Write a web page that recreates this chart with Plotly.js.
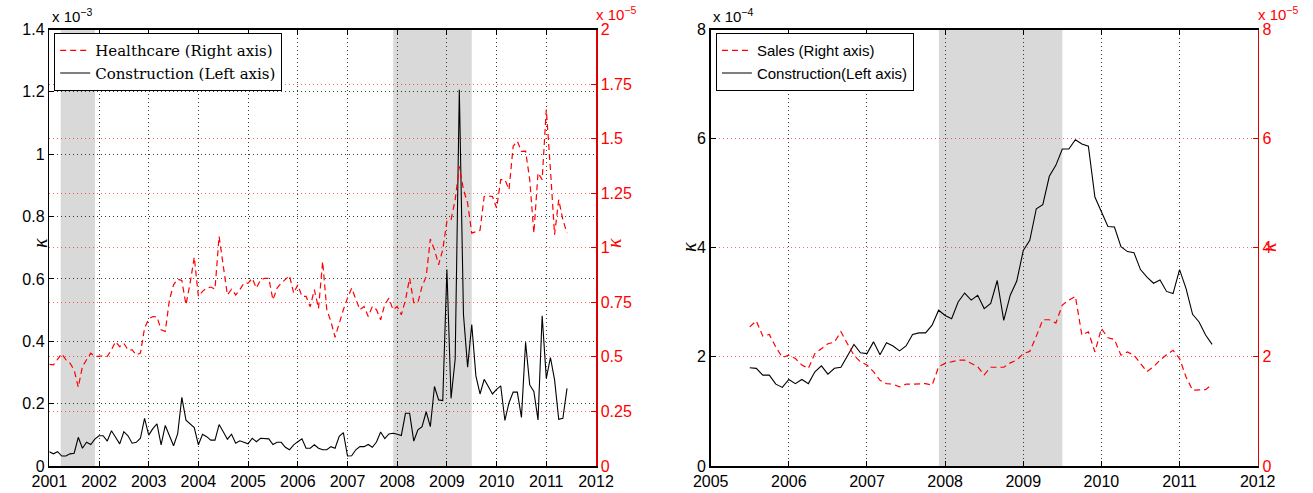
<!DOCTYPE html>
<html>
<head>
<meta charset="utf-8">
<script src="https://cdn.plot.ly/plotly-3.0.1.min.js"></script>
<style>html,body{margin:0;padding:0;background:#fff;}#chart{width:1313px;height:493px;}</style>
</head>
<body>
<div id="chart"></div>
<script>
// ---------- Left panel data (monthly, Jan 2001 - Jun 2011) ----------
const leftStartYear = 2001;
// Construction, left axis (x 10^-3)
const constructionLeft = [
 0.046,0.039,0.046,0.032,0.032,0.039,0.041,0.092,0.057,0.076,0.069,0.086,
 0.097,0.097,0.080,0.113,0.092,0.071,0.110,0.097,0.073,0.076,0.089,0.153,
 0.099,0.120,0.135,0.068,0.130,0.099,0.065,0.104,0.220,0.147,0.134,0.123,
 0.068,0.102,0.094,0.083,0.083,0.133,0.110,0.086,0.102,0.073,0.081,0.076,
 0.071,0.089,0.078,0.089,0.089,0.087,0.069,0.076,0.076,0.060,0.052,0.068,
 0.078,0.087,0.057,0.057,0.068,0.057,0.052,0.052,0.062,0.057,0.095,0.107,
 0.032,0.033,0.052,0.062,0.062,0.069,0.060,0.077,0.109,0.088,0.103,0.105,
 0.102,0.098,0.169,0.169,0.080,0.116,0.126,0.174,0.126,0.255,0.212,0.210,
 0.630,0.217,0.343,1.207,0.486,0.317,0.454,0.289,0.231,0.278,0.255,0.231,
 0.246,0.257,0.146,0.203,0.237,0.237,0.156,0.397,0.260,0.239,0.148,0.482,
 0.281,0.348,0.276,0.150,0.153,0.249
];
// Healthcare, right axis (x 10^-5)
const healthcare = [
 0.466,0.463,0.489,0.514,0.487,0.471,0.440,0.361,0.456,0.487,0.517,0.502,
 0.502,0.506,0.502,0.532,0.570,0.547,0.562,0.532,0.532,0.509,0.517,0.632,
 0.673,0.685,0.683,0.624,0.617,0.761,0.830,0.856,0.850,0.739,0.838,0.957,
 0.777,0.800,0.815,0.820,0.810,1.052,0.922,0.784,0.810,0.784,0.808,0.838,
 0.838,0.860,0.815,0.853,0.860,0.860,0.761,0.815,0.838,0.856,0.872,0.792,
 0.830,0.777,0.777,0.730,0.808,0.722,0.937,0.716,0.662,0.590,0.656,0.716,
 0.769,0.815,0.765,0.716,0.731,0.685,0.731,0.716,0.670,0.740,0.769,0.716,
 0.731,0.693,0.761,0.861,0.749,0.749,0.823,0.868,1.040,0.991,0.922,0.991,
 1.121,1.128,1.220,1.373,1.266,1.205,1.067,1.075,1.080,1.235,1.237,1.235,
 1.182,1.312,1.312,1.266,1.465,1.488,1.442,1.443,1.312,1.067,1.343,1.312,
 1.633,1.358,1.060,1.220,1.128,1.067
];
// ---------- Right panel data (monthly, Jul 2005 - Jun 2011) ----------
const rightStartYear = 2005.5;
// Construction, left axis (x 10^-4)
const constructionRight = [
 1.80,1.79,1.665,1.665,1.50,1.44,1.586,1.51,1.586,1.51,1.726,1.836,
 1.683,1.79,1.81,2.013,2.227,2.074,2.06,2.275,2.04,2.26,2.20,2.11,
 2.20,2.41,2.44,2.44,2.58,2.855,2.76,2.70,3.007,3.17,3.04,3.13,
 2.885,2.98,3.40,2.67,3.13,3.39,3.95,4.135,4.715,4.79,5.31,5.51,
 5.81,5.81,5.98,5.90,5.86,4.93,4.65,4.39,4.38,4.02,3.93,3.91,
 3.60,3.46,3.35,3.41,3.20,3.16,3.60,3.25,2.78,2.64,2.40,2.23
];
// Sales, right axis (x 10^-5)
const sales = [
 2.55,2.66,2.38,2.41,2.18,1.99,2.03,1.97,1.85,1.79,2.06,2.15,
 2.24,2.27,2.46,2.24,2.03,1.91,1.85,1.73,1.57,1.51,1.50,1.45,
 1.50,1.50,1.50,1.51,1.48,1.82,1.88,1.91,1.94,1.94,1.88,1.82,
 1.67,1.81,1.81,1.81,1.89,1.94,2.06,2.10,2.38,2.68,2.68,2.62,
 2.95,3.04,3.11,2.40,2.46,2.09,2.52,2.35,2.32,2.03,2.09,2.03,
 1.88,1.73,1.82,1.94,2.04,2.12,1.97,1.63,1.39,1.39,1.40,1.50
];
// Recession shading periods (decimal years)
const recessionsLeft = [[2001.23, 2001.92], [2007.92, 2009.5]];
const recessionsRight = [[2007.92, 2009.5]];
// Tick labels
const yearTicksLeft = [2001,2002,2003,2004,2005,2006,2007,2008,2009,2010,2011,2012];
const yearTicksRight = [2005,2006,2007,2008,2009,2010,2011,2012];
const leftAxisTicksL = [0,0.2,0.4,0.6,0.8,1,1.2,1.4];
const leftAxisTextL = ["0","0.2","0.4","0.6","0.8","1","1.2","1.4"];
const rightAxisTicksL = [0,0.25,0.5,0.75,1,1.25,1.5,1.75,2];
const rightAxisTextL = ["0","0.25","0.5","0.75","1","1.25","1.5","1.75","2"];
const axisTicksR = [0,2,4,6,8];
const axisTextR = ["0","2","4","6","8"];

function months(start, n){ const a=[]; for(let i=0;i<n;i++) a.push(start + i/12); return a; }
const xLeft = months(leftStartYear, constructionLeft.length);
const xRight = months(rightStartYear, constructionRight.length);

const W = 1313, H = 493;
const px = v => v / W;
const py = v => 1 - v / H;

const FONT = 'Liberation Sans, Arial, sans-serif';
const SERIF = 'DejaVu Serif, Liberation Serif, serif';
const KSERIF = 'Liberation Serif, serif';
const tickFont = {family: FONT, size: 16, color: '#000'};
const redFont = {family: FONT, size: 16, color: '#ff0000'};
const dotGrid = '#3a3a3a';
const redGrid = 'rgba(255,0,0,0.6)';
const DOT = '1px,3px';

const traces = [
  {x: xLeft, y: healthcare, xaxis: 'x', yaxis: 'y2', type: 'scatter', mode: 'lines',
   name: 'Healthcare (Right axis)', line: {color: '#ff0000', width: 1.2, dash: '6px,4px'}, legend: 'legend'},
  {x: xLeft, y: constructionLeft, xaxis: 'x', yaxis: 'y', type: 'scatter', mode: 'lines',
   name: 'Construction (Left axis)', line: {color: '#000', width: 1.1}, legend: 'legend'},
  {x: xRight, y: sales, xaxis: 'x2', yaxis: 'y4', type: 'scatter', mode: 'lines',
   name: 'Sales (Right axis)', line: {color: '#ff0000', width: 1.2, dash: '6px,4px'}, legend: 'legend2'},
  {x: xRight, y: constructionRight, xaxis: 'x2', yaxis: 'y3', type: 'scatter', mode: 'lines',
   name: 'Construction(Left axis)', line: {color: '#000', width: 1.1}, legend: 'legend2'}
];

const yDom = [py(466), py(29.5)];
const shapes = [];
recessionsLeft.forEach(r => shapes.push({type:'rect', xref:'x', yref:'y domain', x0:r[0], x1:r[1], y0:0, y1:1,
  fillcolor:'#d9d9d9', line:{width:0}, layer:'below'}));
recessionsRight.forEach(r => shapes.push({type:'rect', xref:'x2', yref:'y3 domain', x0:r[0], x1:r[1], y0:0, y1:1,
  fillcolor:'#d9d9d9', line:{width:0}, layer:'below'}));

const xCommon = {showline:true, linecolor:'#000', linewidth:1.5, mirror:'ticks', ticks:'inside', ticklen:5,
  tickcolor:'#000', showgrid:true, gridcolor:dotGrid, griddash:DOT, gridwidth:1, zeroline:false, tickfont:tickFont};

const layout = {
  width: W, height: H, margin: {l:0, r:0, t:0, b:0}, paper_bgcolor:'#fff', plot_bgcolor:'#fff',
  showlegend: true,
  xaxis: Object.assign({}, xCommon, {domain:[px(49.3), px(596)], anchor:'y', range:[2001, 2012],
    tickvals: yearTicksLeft, ticktext: yearTicksLeft.map(String)}),
  yaxis: {domain: yDom, anchor:'x', range:[0, 1.4], tickvals: leftAxisTicksL, ticktext: leftAxisTextL,
    showline:true, linecolor:'#000', linewidth:1.5, ticks:'inside', ticklen:5, tickcolor:'#000',
    showgrid:true, gridcolor:dotGrid, griddash:DOT, zeroline:false, tickfont:tickFont},
  yaxis2: {overlaying:'y', side:'right', anchor:'x', range:[0, 2], tickvals: rightAxisTicksL, ticktext: rightAxisTextL,
    showline:true, linecolor:'#dd0000', linewidth:1.5, ticks:'inside', ticklen:5, tickcolor:'#dd0000',
    showgrid:true, gridcolor:redGrid, griddash:DOT, zeroline:false, tickfont:redFont},
  xaxis2: Object.assign({}, xCommon, {domain:[px(710.7), px(1257.7)], anchor:'y3', range:[2005, 2012],
    tickvals: yearTicksRight, ticktext: yearTicksRight.map(String)}),
  yaxis3: {domain: yDom, anchor:'x2', range:[0, 8], tickvals: axisTicksR, ticktext: axisTextR,
    showline:true, linecolor:'#000', linewidth:1.5, ticks:'inside', ticklen:5, tickcolor:'#000',
    showgrid:false, zeroline:false, tickfont:tickFont},
  yaxis4: {overlaying:'y3', side:'right', anchor:'x2', range:[0, 8], tickvals: axisTicksR, ticktext: axisTextR,
    showline:true, linecolor:'#dd0000', linewidth:1.5, ticks:'inside', ticklen:5, tickcolor:'#dd0000',
    showgrid:true, gridcolor:redGrid, griddash:DOT, zeroline:false, tickfont:redFont},
  legend: {x: px(54), y: py(33), xanchor:'left', yanchor:'top', bgcolor:'#fff', bordercolor:'#000', borderwidth:1.2,
    font:{family:SERIF, size:15, color:'#000'}, tracegroupgap:0, itemwidth:30},
  legend2: {x: px(715.7), y: py(33), xanchor:'left', yanchor:'top', bgcolor:'#fff', bordercolor:'#000', borderwidth:1.2,
    font:{family:FONT, size:15, color:'#000'}, tracegroupgap:0, itemwidth:30},
  shapes: shapes,
  annotations: [
    {xref:'paper', yref:'paper', x:px(50), y:py(15), xanchor:'left', yanchor:'middle', showarrow:false,
     text:'x 10<sup>\u22123</sup>', font:{family:FONT, size:15, color:'#000'}},
    {xref:'paper', yref:'paper', x:px(594), y:py(14), xanchor:'left', yanchor:'middle', showarrow:false,
     text:'x 10<sup>\u22125</sup>', font:{family:FONT, size:15, color:'#ff0000'}},
    {xref:'paper', yref:'paper', x:px(711), y:py(15), xanchor:'left', yanchor:'middle', showarrow:false,
     text:'x 10<sup>\u22124</sup>', font:{family:FONT, size:15, color:'#000'}},
    {xref:'paper', yref:'paper', x:px(1256), y:py(14), xanchor:'left', yanchor:'middle', showarrow:false,
     text:'x 10<sup>\u22125</sup>', font:{family:FONT, size:15, color:'#ff0000'}},
    {xref:'paper', yref:'paper', x:px(27), y:py(243), showarrow:false, textangle:-90,
     text:'<i>\u03ba</i>', font:{family:KSERIF, size:20, color:'#000'}},
    {xref:'paper', yref:'paper', x:px(614), y:py(243), showarrow:false, textangle:-90,
     text:'<i>\u03ba</i>', font:{family:KSERIF, size:20, color:'#ff0000'}},
    {xref:'paper', yref:'paper', x:px(689), y:py(247), showarrow:false, textangle:-90,
     text:'<i>\u03ba</i>', font:{family:KSERIF, size:20, color:'#000'}},
    {xref:'paper', yref:'paper', x:px(1282), y:py(247), showarrow:false, textangle:-90,
     text:'<i>\u03ba</i>', font:{family:KSERIF, size:20, color:'#ff0000'}}
  ]
};

Plotly.newPlot('chart', traces, layout, {displayModeBar:false, staticPlot:true});
</script>
</body>
</html>
